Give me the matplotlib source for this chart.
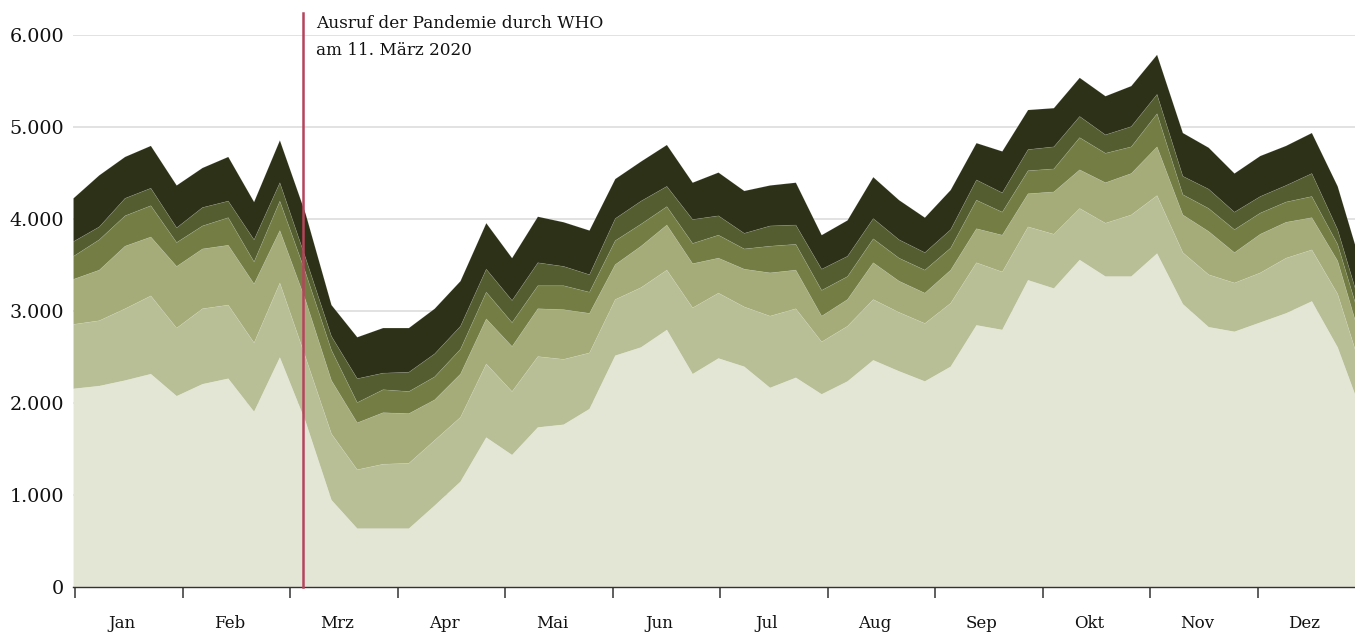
import matplotlib
matplotlib.use("Agg")
import matplotlib.pyplot as plt
import numpy as np

# -- Data: weekly values per layer (bottom -> top) -------------------------
WEEKS = np.arange(51)

LAYER_1 = [2160, 2190, 2250, 2320, 2080, 2210, 2270, 1910, 2500, 1800,
           950, 640, 640, 640, 890, 1150, 1630, 1440, 1740, 1770,
           1940, 2520, 2610, 2800, 2320, 2490, 2400, 2170, 2280, 2100,
           2240, 2470, 2350, 2240, 2400, 2850, 2800, 3340, 3250, 3560,
           3380, 3380, 3630, 3080, 2830, 2780, 2880, 2980, 3110, 2610,
           1850]
LAYER_2 = [700, 710, 780, 850, 740, 820, 800, 750, 810, 700,
           720, 640, 700, 710, 710, 700, 800, 690, 770, 710,
           610, 610, 650, 650, 720, 710, 650, 780, 750, 570,
           600, 660, 640, 630, 690, 680, 630, 580, 590, 560,
           580, 670, 630, 560, 570, 530, 540, 600, 560, 580,
           450]
LAYER_3 = [490, 550, 680, 640, 670, 650, 650, 640, 570, 620,
           580, 510, 560, 540, 440, 470, 490, 490, 520, 540,
           430, 380, 450, 490, 480, 380, 410, 470, 420, 280,
           290, 400, 340, 330, 360, 370, 400, 360, 460, 420,
           440, 450, 530, 410, 470, 330, 420, 390, 350, 360,
           300]
LAYER_4 = [250, 330, 330, 340, 260, 250, 300, 240, 320, 300,
           330, 220, 250, 240, 250, 270, 290, 260, 250, 260,
           230, 260, 240, 200, 220, 250, 220, 290, 280, 280,
           250, 260, 250, 250, 240, 310, 250, 250, 250, 350,
           320, 290, 360, 220, 250, 250, 230, 220, 230, 180,
           200]
LAYER_5 = [160, 140, 190, 190, 160, 200, 180, 240, 200, 160,
           150, 260, 180, 210, 250, 250, 250, 240, 250, 210,
           190, 240, 250, 220, 260, 210, 170, 220, 210, 230,
           220, 220, 200, 190, 200, 220, 210, 230, 240, 230,
           200, 220, 210, 200, 210, 190, 180, 180, 250, 160,
           150]
LAYER_6 = [470, 560, 450, 460, 460, 430, 480, 410, 460, 480,
           340, 450, 490, 480, 490, 490, 500, 460, 500, 480,
           480, 430, 430, 450, 400, 470, 460, 440, 460, 370,
           390, 450, 430, 380, 430, 400, 450, 430, 420, 420,
           420, 440, 430, 470, 450, 420, 440, 430, 440, 470,
           470]

COLORS = ["#e4e6d5", "#b8bf96", "#a5ac79", "#737d44", "#535d2f", "#2d3117"]

MONTHS = ["Jan", "Feb", "Mrz", "Apr", "Mai", "Jun",
          "Jul", "Aug", "Sep", "Okt", "Nov", "Dez"]
Y_TICKS = [0, 1000, 2000, 3000, 4000, 5000, 6000]
Y_LABELS = ["0", "1.000", "2.000", "3.000", "4.000", "5.000", "6.000"]

WHO_WEEK = 8.92
WHO_TEXT_1 = "Ausruf der Pandemie durch WHO"
WHO_TEXT_2 = "am 11. M\u00e4rz 2020"

plt.rcParams["font.family"] = ["DejaVu Serif"]

# -- Build figure ----------------------------------------------------------
fig = plt.figure(figsize=(13.55, 6.33), dpi=100)
ax = fig.add_axes([73 / 1355, 46 / 633, 1 - 73 / 1355, 552 / 633])

ax.stackplot(WEEKS, LAYER_1, LAYER_2, LAYER_3, LAYER_4, LAYER_5, LAYER_6,
             colors=COLORS, edgecolor=(1, 1, 1, 0.12), linewidth=0.5,
             zorder=2)

ax.set_xlim(0, 49.69)
ax.set_ylim(0, 6000)

# grid
ax.set_yticks(Y_TICKS)
ax.set_yticklabels(Y_LABELS, fontsize=13.8, color="#111111")
ax.yaxis.grid(True, color="#dddddd", linewidth=1.2, zorder=0)
ax.set_axisbelow(True)
ax.tick_params(axis="y", length=0, pad=6.5)

# month ticks / labels
month_w = 50 / 12
ax.set_xticks([0.08 + k * month_w for k in range(12)])
ax.set_xticklabels([])
ax.set_xticks([0.08 + (k + 0.437) * month_w for k in range(12)], minor=True)
ax.set_xticklabels(MONTHS, minor=True, fontsize=12, color="#111111")
ax.tick_params(axis="x", which="major", length=8, width=1.1,
               color="#333333", direction="out")
ax.tick_params(axis="x", which="minor", length=0, pad=20)

for side in ("top", "right", "left"):
    ax.spines[side].set_visible(False)
ax.spines["bottom"].set_color("#333333")
ax.spines["bottom"].set_linewidth(1.0)
ax.spines["bottom"].set_zorder(5)

# WHO marker
ax.axvline(WHO_WEEK, ymin=0, ymax=1.04, color="#b5445c", linewidth=1.8,
           clip_on=False, zorder=6)
ax.text(WHO_WEEK + 0.5, 6076, WHO_TEXT_1, fontsize=12.2, va="baseline",
        ha="left", color="#111111", clip_on=False)
ax.text(WHO_WEEK + 0.5, 5783, WHO_TEXT_2, fontsize=12.2, va="baseline",
        ha="left", color="#111111", clip_on=False)

fig.savefig("out.png", dpi=100, facecolor="white")
